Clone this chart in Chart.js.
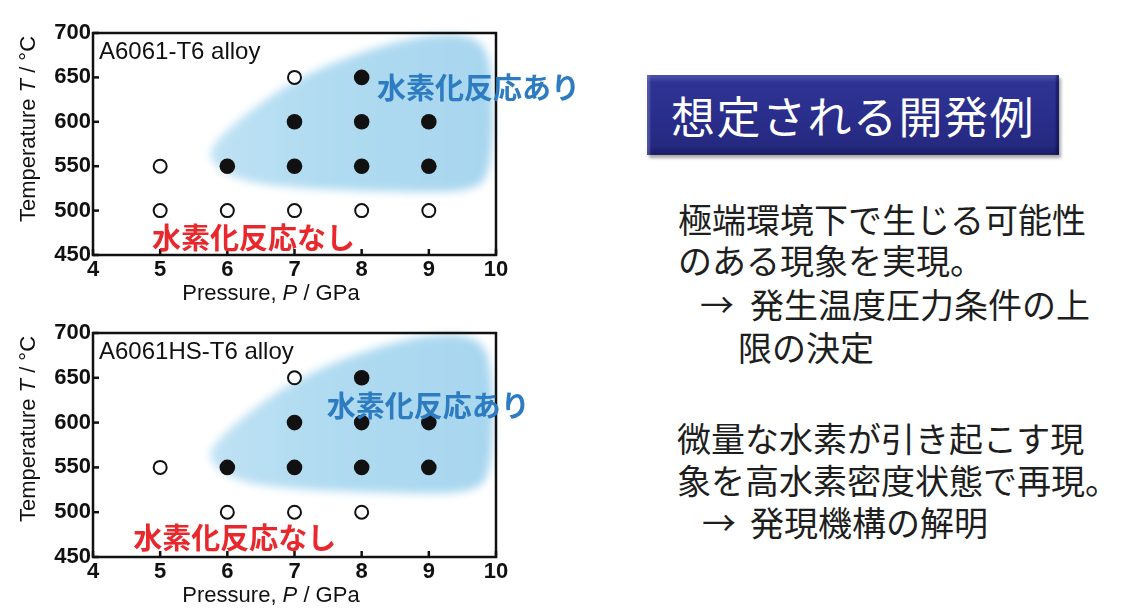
<!DOCTYPE html>
<html>
<head>
<meta charset="utf-8">
<script src="https://cdn.jsdelivr.net/npm/chart.js@4.4.1/dist/chart.umd.min.js"></script>
<style>
    body { margin: 0; background: #fff; width: 1139px; height: 616px; overflow: hidden; position: relative; }
    .chart { position: absolute; left: 0; }
    .jp { position: absolute; font-family: "Noto Sans CJK JP", sans-serif; font-size: 34px; line-height: 34px; color: #1e1e1e; white-space: nowrap; }
    #titleBox {
        position: absolute; left: 647px; top: 75px; width: 412px; height: 80px;
        background: linear-gradient(to bottom, #5256ae 0%, #2f3393 9%, #2a2e8c 50%, #25297f 88%, #181b62 100%);
        box-shadow: 2px 3px 3px rgba(0,0,0,0.35), inset 3px 0 2px rgba(120,125,200,0.5), inset -3px 0 2px rgba(10,10,60,0.5);
        color: #fff; font-family: "Noto Sans CJK JP", sans-serif; font-size: 44px; line-height: 80px;
        text-align: center; letter-spacing: 1.5px;
    }
</style>
</head>
<body>
<div class="chart" style="top:0px"><canvas id="chartT6" width="600" height="310"></canvas></div>
<div class="chart" style="top:300px"><canvas id="chartHS" width="600" height="316"></canvas></div>

<div id="titleBox">想定される開発例</div>

<div class="jp" style="left:678px; top:202px">極端環境下で生じる可能性</div>
<div class="jp" style="left:678px; top:243px">のある現象を実現。</div>
<div class="jp" style="left:700px; top:287px">→</div>
<div class="jp" style="left:750px; top:287px">発生温度圧力条件の上</div>
<div class="jp" style="left:738px; top:330px">限の決定</div>

<div class="jp" style="left:677px; top:421px">微量な水素が引き起こす現</div>
<div class="jp" style="left:677px; top:463px">象を高水素密度状態で再現。</div>
<div class="jp" style="left:702px; top:505px">→</div>
<div class="jp" style="left:750px; top:505px">発現機構の解明</div>

<script>
// axis ranges / ticks
const pressureTicks = [4, 5, 6, 7, 8, 9, 10];
const tempTicks = [450, 500, 550, 600, 650, 700];

// A6061-T6 alloy
const t6ReactP = [8, 7, 8, 9, 6, 7, 8, 9];
const t6ReactT = [650, 600, 600, 600, 550, 550, 550, 550];
const t6NoneP = [7, 5, 5, 6, 7, 8, 9];
const t6NoneT = [650, 550, 500, 500, 500, 500, 500];

// A6061HS-T6 alloy
const hsReactP = [8, 7, 8, 9, 6, 7, 8, 9];
const hsReactT = [650, 600, 600, 600, 550, 550, 550, 550];
const hsNoneP = [7, 5, 6, 7, 8];
const hsNoneT = [650, 550, 500, 500, 500];

// outline of the shaded "reaction" region (P, T)
const regionP = [5.70, 6.09, 7.08, 8.57, 9.56, 9.95, 9.96, 9.76, 9.06, 8.07, 7.08, 6.34, 5.84];
const regionT = [560, 534, 525, 521, 521, 538, 658, 696, 700, 681, 651, 613, 580];

const labelReact = '水素化反応あり';
const labelNone = '水素化反応なし';

const latin = '"Liberation Sans", Arial, sans-serif';

function toPoints(xs, ys) {
    return xs.map(function (x, i) { return { x: x, y: ys[i] }; });
}

function drawMixed(ctx, parts, cx, cy) {
    // parts: [text, italic]
    let total = 0;
    parts.forEach(function (p) {
        ctx.font = (p[1] ? 'italic ' : '') + '22px ' + latin;
        total += ctx.measureText(p[0]).width;
    });
    let x = cx - total / 2;
    parts.forEach(function (p) {
        ctx.font = (p[1] ? 'italic ' : '') + '22px ' + latin;
        ctx.fillText(p[0], x, cy);
        x += ctx.measureText(p[0]).width;
    });
}

const decorPlugin = {
    id: 'decor',
    beforeDatasetsDraw: function (chart) {
        const ctx = chart.ctx;
        const xs = chart.scales.x, ys = chart.scales.y;
        const pts = regionP.map(function (p, i) {
            return [xs.getPixelForValue(p), ys.getPixelForValue(regionT[i])];
        });
        ctx.save();
        ctx.filter = 'blur(4px)';
        const g = ctx.createLinearGradient(xs.getPixelForValue(5.7), 0, xs.getPixelForValue(10), 0);
        g.addColorStop(0, 'rgba(192,226,244,1)');
        g.addColorStop(0.4, 'rgba(176,219,241,1)');
        g.addColorStop(1, 'rgba(168,214,239,1)');
        ctx.fillStyle = g;
        ctx.beginPath();
        const n = pts.length;
        let m0 = [(pts[n - 1][0] + pts[0][0]) / 2, (pts[n - 1][1] + pts[0][1]) / 2];
        ctx.moveTo(m0[0], m0[1]);
        for (let i = 0; i < n; i++) {
            const p = pts[i], q = pts[(i + 1) % n];
            ctx.quadraticCurveTo(p[0], p[1], (p[0] + q[0]) / 2, (p[1] + q[1]) / 2);
        }
        ctx.closePath();
        ctx.fill();
        ctx.restore();
    },
    afterDatasetsDraw: function (chart, args, opts) {
        const ctx = chart.ctx;
        const a = chart.chartArea;
        const xs = chart.scales.x, ys = chart.scales.y;
        ctx.save();
        // frame
        ctx.strokeStyle = '#111';
        ctx.lineWidth = 2.5;
        ctx.strokeRect(a.left, a.top, a.right - a.left, a.bottom - a.top);
        // inward tick marks
        pressureTicks.forEach(function (v) {
            const x = xs.getPixelForValue(v);
            ctx.beginPath();
            ctx.moveTo(x, a.bottom);
            ctx.lineTo(x, a.bottom - 6);
            ctx.stroke();
        });
        tempTicks.forEach(function (v) {
            const y = ys.getPixelForValue(v);
            ctx.beginPath();
            ctx.moveTo(a.left, y);
            ctx.lineTo(a.left + 6, y);
            ctx.stroke();
        });
        // alloy name
        ctx.fillStyle = '#111';
        ctx.textAlign = 'left';
        ctx.textBaseline = 'middle';
        ctx.font = '24px ' + latin;
        ctx.fillText(opts.alloy, a.left + 6, a.top + 19);
        // region labels
        ctx.font = 'bold 29px "Noto Sans CJK JP", sans-serif';
        ctx.fillStyle = '#2d7cc2';
        ctx.fillText(labelReact, xs.getPixelForValue(opts.reactAt[0]), ys.getPixelForValue(opts.reactAt[1]));
        ctx.fillStyle = '#e8282c';
        ctx.fillText(labelNone, xs.getPixelForValue(opts.noneAt[0]), ys.getPixelForValue(opts.noneAt[1]));
        // axis titles
        ctx.fillStyle = '#111';
        drawMixed(ctx, [['Pressure, ', false], ['P', true], [' / GPa', false]], a.left + 178, a.bottom + 39);
        ctx.translate(29, a.top + 96);
        ctx.rotate(-Math.PI / 2);
        drawMixed(ctx, [['Temperature ', false], ['T', true], [' / °C', false]], 0, 0);
        ctx.restore();
    }
};

function makeChart(id, reactP, reactT, noneP, noneT, decor, axisH) {
    return new Chart(document.getElementById(id), {
        type: 'scatter',
        data: {
            datasets: [{
                label: 'reaction',
                data: toPoints(reactP, reactT),
                pointRadius: 7.8,
                pointBackgroundColor: '#111',
                pointBorderColor: '#111',
                pointBorderWidth: 0
            }, {
                label: 'no reaction',
                data: toPoints(noneP, noneT),
                pointRadius: 6.5,
                pointBackgroundColor: '#fff',
                pointBorderColor: '#111',
                pointBorderWidth: 2
            }]
        },
        options: {
            responsive: false,
            animation: false,
            layout: { padding: { top: 33, right: 104, left: 0, bottom: 0 } },
            scales: {
                x: {
                    min: 4, max: 10,
                    afterFit: function (s) { s.height = axisH; },
                    afterBuildTicks: function (s) { s.ticks = pressureTicks.map(function (v) { return { value: v }; }); },
                    grid: { display: false, drawTicks: false },
                    border: { display: false },
                    ticks: { autoSkip: false, maxRotation: 0, padding: 2, color: '#111', font: { family: latin, size: 22, weight: 'bold' } }
                },
                y: {
                    min: 450, max: 700,
                    afterFit: function (s) { s.width = 93; },
                    afterBuildTicks: function (s) { s.ticks = tempTicks.map(function (v) { return { value: v }; }); },
                    grid: { display: false, drawTicks: false },
                    border: { display: false },
                    ticks: { autoSkip: false, padding: 2, color: '#111', font: { family: latin, size: 22, weight: 'bold' } }
                }
            },
            plugins: {
                legend: { display: false },
                tooltip: { enabled: false },
                decor: decor
            }
        },
        plugins: [decorPlugin]
    });
}

makeChart('chartT6', t6ReactP, t6ReactT, t6NoneP, t6NoneT,
    { alloy: 'A6061-T6 alloy', reactAt: [8.23, 638], noneAt: [4.88, 469] }, 55);
makeChart('chartHS', hsReactP, hsReactT, hsNoneP, hsNoneT,
    { alloy: 'A6061HS-T6 alloy', reactAt: [7.48, 618], noneAt: [4.60, 471.5] }, 59);
</script>
</body>
</html>
